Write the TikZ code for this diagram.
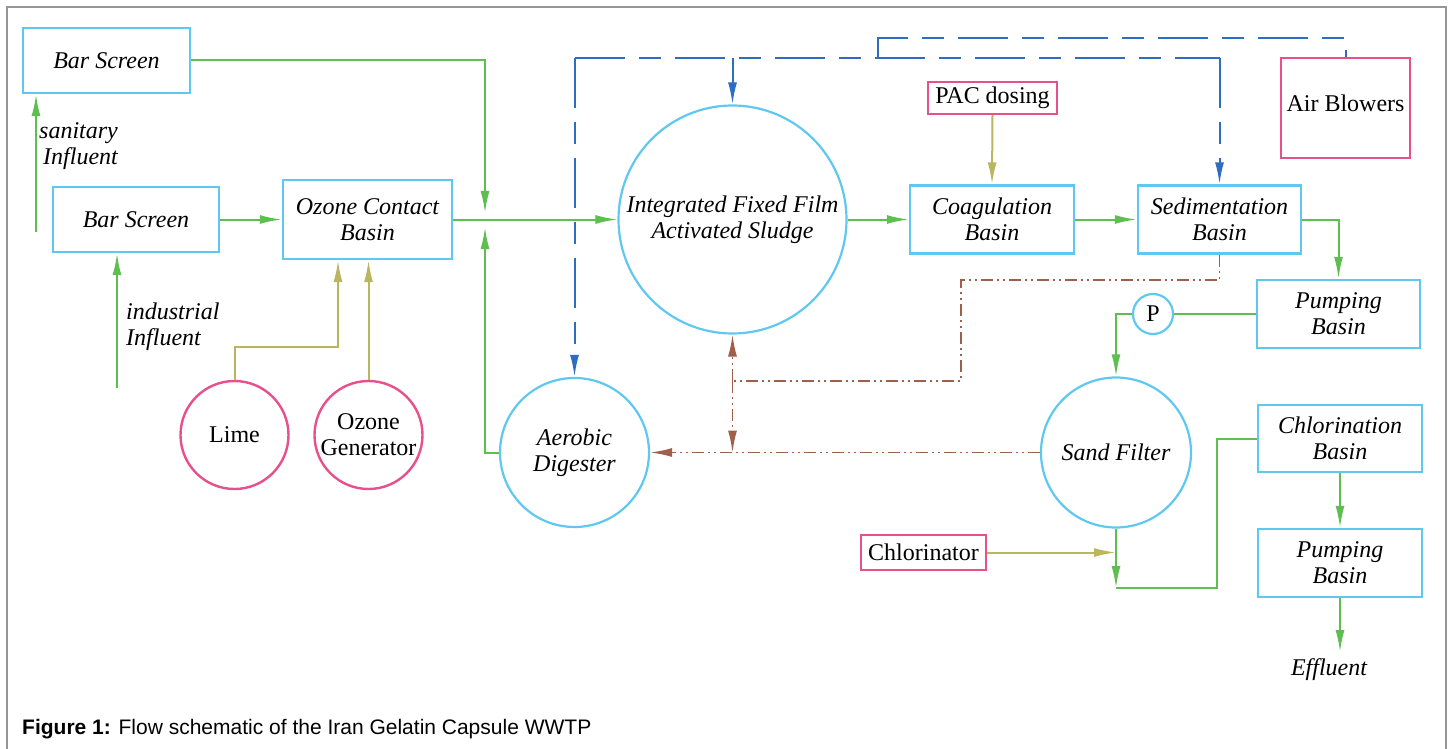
\documentclass[tikz,border=0pt]{standalone}
\usepackage{fontspec}
\setmainfont{Liberation Serif}
\newfontfamily\capfont{Liberation Sans}
\usetikzlibrary{arrows.meta}
\definecolor{boxblue}{RGB}{95,200,240}
\definecolor{pinkc}{RGB}{232,80,140}
\definecolor{flowgreen}{RGB}{95,190,80}
\definecolor{airblue}{RGB}{45,110,195}
\definecolor{sludge}{RGB}{160,95,75}
\definecolor{olivec}{RGB}{185,182,95}
\definecolor{framegray}{RGB}{150,150,150}
\begin{document}
\begin{tikzpicture}[x=1pt,y=-1pt,
  every node/.style={inner sep=0pt, font=\fontsize{24}{26}\selectfont},
  unitbox/.style={draw=boxblue, line width=2.4pt, rectangle, align=center, font=\itshape\fontsize{24}{26}\selectfont},
  unitcirc/.style={draw=boxblue, line width=2.2pt, circle, align=center, font=\itshape\fontsize{24}{26}\selectfont},
  chembox/.style={draw=pinkc, line width=2.4pt, rectangle, align=center},
  chemcirc/.style={draw=pinkc, line width=2.4pt, circle, align=center},
  tip/.style={-{Latex[length=22pt,width=9pt]}},
  flow/.style={draw=flowgreen, line width=2pt},
  flowarr/.style={flow, tip},
  chem/.style={draw=olivec, line width=2pt},
  chemarr/.style={chem, tip},
  airline/.style={draw=airblue, line width=2pt, dash pattern=on 50pt off 14pt on 22pt off 14pt},
  airarr/.style={airline, tip},
  airsolid/.style={draw=airblue, line width=2pt, tip},
  sludgeline/.style={draw=sludge, line width=1.8pt, dash pattern=on 12pt off 4pt on 2pt off 4pt on 2pt off 4pt},
  sludgearr/.style={sludgeline, tip},
  lbl/.style={font=\itshape\fontsize{24}{26}\selectfont, align=left}
]
\useasboundingbox (0,0) rectangle (1452,749);
\draw[framegray, line width=1.2pt] (7,749) -- (7,7) -- (1446,7) -- (1446,749);

% units
\node[unitbox, minimum width=167pt, minimum height=65pt] (bs1) at (106.5,60.5) {Bar Screen};
\node[unitbox, minimum width=166pt, minimum height=65pt] (bs2) at (136,219.5) {Bar Screen};
\node[unitbox, minimum width=169pt, minimum height=79pt] (ozone) at (367.5,219.5) {Ozone Contact\\Basin};
\node[unitcirc, minimum size=228pt] (ifas) at (732.5,219.5) {Integrated Fixed Film\\Activated Sludge};
\node[unitbox, minimum width=164pt, minimum height=68pt] (coag) at (992,219.5) {Coagulation\\Basin};
\node[unitbox, minimum width=163pt, minimum height=68pt] (sed) at (1219.5,219.5) {Sedimentation\\Basin};
\node[unitbox, minimum width=163pt, minimum height=68pt] (pump1) at (1338.5,314) {Pumping\\Basin};
\node[unitcirc, minimum size=40pt, font=\fontsize{24}{26}\selectfont] (pp) at (1153,314) {P};
\node[unitcirc, minimum size=149pt] (aer) at (574.5,452.5) {Aerobic\\Digester};
\node[unitcirc, minimum size=150pt] (sand) at (1116,452.5) {Sand Filter};
\node[unitbox, minimum width=164pt, minimum height=67pt] (chl) at (1340,438.5) {Chlorination\\Basin};
\node[unitbox, minimum width=164pt, minimum height=68pt] (pump2) at (1340,563) {Pumping\\Basin};

% chemicals
\node[chemcirc, minimum size=108pt] (lime) at (234.5,435) {Lime};
\node[chemcirc, minimum size=108pt] (ozgen) at (368.5,435) {Ozone\\Generator};
\node[chembox, minimum width=129pt, minimum height=32pt] (pac) at (992.5,98) {PAC dosing};
\node[chembox, minimum width=129pt, minimum height=100pt, text depth=10pt] (blow) at (1345.5,108) {Air Blowers};
\node[chembox, minimum width=125pt, minimum height=35pt] (chlor) at (923.5,552.5) {Chlorinator};

% labels
\node[lbl, anchor=west] (sanlbl) at (39,146) {sanitary\\\,Influent};
\node[lbl, anchor=west] (indlbl) at (126,327) {industrial\\Influent};
\node[lbl] (eff) at (1329,670) {Effluent};

% coordinates
\coordinate (sanin) at (36,232);
\coordinate (indin) at (117,388);
\coordinate (jnT) at (485,213);
\coordinate (jnB) at (485,227);
\coordinate (limeC) at (338,347);
\coordinate (bB) at (878,58);
\coordinate (bC) at (878,38);
\coordinate (sA) at (1219.5,280);
\coordinate (sB) at (961,381);
\coordinate (sJ) at (732.5,381);
\coordinate (sK) at (732.5,452.5);
\coordinate (fB) at (1116,588);
\coordinate (fC) at (1217,588);
\coordinate (effin) at (1340,652);

% green flow
\draw[flowarr] (sanin) -- (sanin |- bs1.south);
\draw[flowarr] (indin) -- (indin |- bs2.south);
\draw[flowarr] (bs2.east) -- (ozone.west);
\draw[flowarr] (ozone.east) -- (ifas.west);
\draw[flowarr] (bs1.east) -| (jnT);
\draw[flowarr] (aer.west) -| (jnB);
\draw[flowarr] (ifas.east) -- (coag.west);
\draw[flowarr] (coag.east) -- (sed.west);
\draw[flowarr] (sed.east) -| (pump1.north);
\draw[flow] (pump1.west) -- (pp.east);
\draw[flowarr] (pp.west) -| (sand.north);
\draw[flowarr] (sand.south) -- (fB);
\draw[flow] (fB) -- (fC) |- (chl.west);
\draw[flowarr] (chl.south) -- (pump2.north);
\draw[flowarr] (pump2.south) -- (effin);

% chemical feeds
\draw[chemarr] (lime.north) |- (limeC) -- (limeC |- ozone.south);
\draw[chemarr] (ozgen.north) -- (ozgen.north |- ozone.south);
\draw[chemarr] (pac.south) -- (coag.north);
\draw[chemarr] (chlor.east) -- (sand.south |- chlor.east);

% air
\draw[airline] (aer.north |- bB) -- (sed.north |- bB);
\draw[airline] (bB) -- (bC) -- (blow.north |- bC) -- (blow.north);
\draw[airarr] (aer.north |- bB) -- (aer.north);
\draw[airsolid] (ifas.north |- bB) -- (ifas.north);
\draw[airarr] (sed.north |- bB) -- (sed.north);

% sludge
\draw[sludgeline] (sed.south) -- (sA) -| (sB) -- (sJ);
\draw[sludgearr] (sJ) -- (ifas.south);
\draw[sludgearr] (sJ) -- (sK);
\draw[sludgearr] (sand.west) -- (aer.east);

% caption
\node[anchor=base west, font=\capfont\fontsize{21}{24}\selectfont] (cap) at (22,734) {\textbf{Figure 1:} Flow schematic of the Iran Gelatin Capsule WWTP};
\end{tikzpicture}
\end{document}
